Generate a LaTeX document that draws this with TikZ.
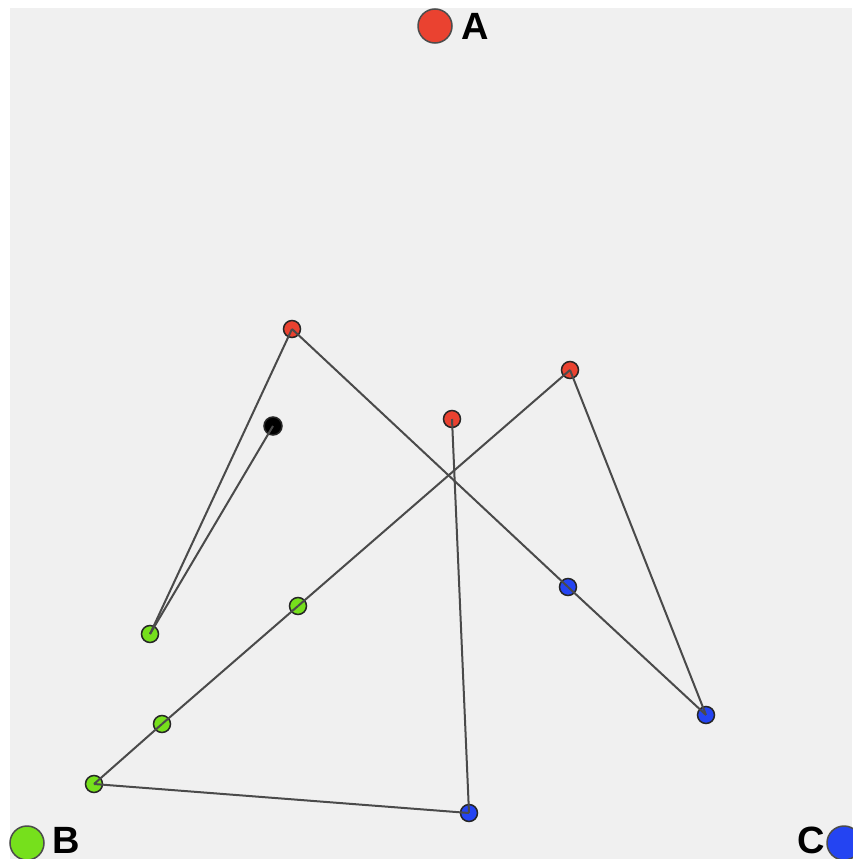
\documentclass[tikz,border=0pt]{standalone}
\usepackage{fontspec}
\setmainfont{Liberation Sans}
\definecolor{bg}{HTML}{F0F0F0}
\definecolor{nred}{HTML}{EA4230}
\definecolor{ngreen}{HTML}{76E01C}
\definecolor{nblue}{HTML}{2444F2}
\definecolor{edge}{HTML}{4A4A4A}
\tikzset{
  dot/.style={circle,draw=black!85,line width=1.5pt,minimum size=17pt,inner sep=0pt},
  big/.style={circle,draw=black!70,line width=1.5pt,minimum size=34pt,inner sep=0pt},
  lbl/.style={font=\bfseries\fontsize{38}{38}\selectfont,inner sep=0pt},
  link/.style={draw=edge,line width=2pt}
}
\begin{document}
\begin{tikzpicture}[x=1pt,y=-1pt]
\useasboundingbox (0,0) rectangle (852,859);
\fill[white] (0,0) rectangle (852,859);
\fill[bg] (10,8) rectangle (852,859);
% big nodes
\node[big,fill=nred] (A) at (435,26) {};
\node[lbl,anchor=west] (LA) at (461,26) {A};
\node[big,fill=ngreen] (B) at (27,843) {};
\node[lbl,anchor=west] (LB) at (52,840) {B};
\node[big,fill=nblue] (C) at (844,843) {};
\node[lbl,anchor=east] (LC) at (825,840) {C};
% small nodes
\node[dot,fill=nred] (r1) at (292,329) {};
\node[dot,fill=nred] (r2) at (570,370) {};
\node[dot,fill=nred] (r3) at (452,419) {};
\node[dot,fill=black,minimum size=18pt] (k) at (273,426) {};
\node[dot,fill=ngreen] (g1) at (150,634) {};
\node[dot,fill=ngreen] (g2) at (298,606) {};
\node[dot,fill=ngreen] (g3) at (162,724) {};
\node[dot,fill=ngreen] (g4) at (94,784) {};
\node[dot,fill=nblue] (b1) at (568,587) {};
\node[dot,fill=nblue] (b2) at (706,715) {};
\node[dot,fill=nblue] (b3) at (469,813) {};
% links (to centres, drawn over the dots)
\draw[link] (r1.center) -- (g1.center);
\draw[link] (k.center) -- (g1.center);
\draw[link] (r1.center) -- (b1.center);
\draw[link] (b1.center) -- (b2.center);
\draw[link] (r2.center) -- (b2.center);
\draw[link] (r2.center) -- (g2.center);
\draw[link] (g2.center) -- (g3.center);
\draw[link] (g3.center) -- (g4.center);
\draw[link] (r3.center) -- (b3.center);
\draw[link] (g4.center) -- (b3.center);
\end{tikzpicture}
\end{document}
